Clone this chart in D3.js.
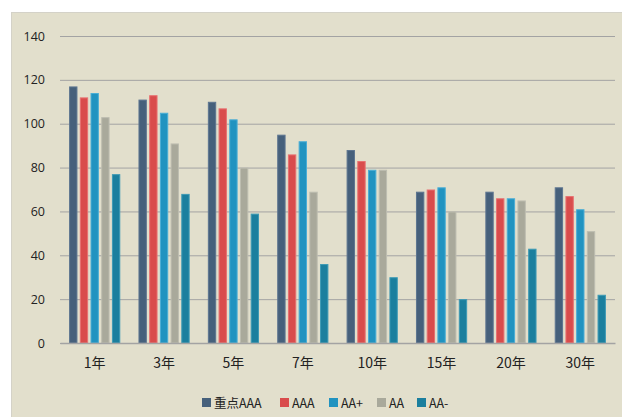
<!DOCTYPE html>
<html>
<head>
<meta charset="utf-8">
<script src="https://cdn.jsdelivr.net/npm/d3@7/dist/d3.min.js"></script>
<style>
  html, body { margin: 0; padding: 0; background: #ffffff; }
  svg { display: block; }
  text { font-family: "Noto Sans CJK SC", "Open Sans", sans-serif; fill: #222; }
</style>
</head>
<body>
<svg id="chart" width="622" height="417"></svg>
<script>
// Tenors along the x axis
const categories = ["1年", "3年", "5年", "7年", "10年", "15年", "20年", "30年"];
// Rating series names
const seriesNames = ["重点AAA", "AAA", "AA+", "AA", "AA-"];
// Values per series, one entry per tenor
const seriesKeyAAA = [117, 111, 110, 95, 88, 69, 69, 71];
const seriesAAA    = [112, 113, 107, 86, 83, 70, 66, 67];
const seriesAAplus = [114, 105, 102, 92, 79, 71, 66, 61];
const seriesAA     = [103, 91, 80, 69, 79, 60, 65, 51];
const seriesAAminus = [77, 68, 59, 36, 30, 20, 43, 22];
const yTicks = [0, 20, 40, 60, 80, 100, 120, 140];

const seriesValues = [seriesKeyAAA, seriesAAA, seriesAAplus, seriesAA, seriesAAminus];
const colors = ["#46607b", "#d94c4c", "#2193c0", "#a9a99b", "#1b7f9e"];
const strokes = ["#5d7590", "#e87070", "#4aaed6", "#bdbdb0", "#3d9ab5"];

const svg = d3.select("#chart");

// panel background
svg.append("rect")
  .attr("x", 11.5).attr("y", 12.5)
  .attr("width", 615).attr("height", 410)
  .attr("fill", "#e2dfcc")
  .attr("stroke", "#d4d2c8");

const plotLeft = 60, plotRight = 615, plotTop = 36, plotBottom = 343;

const x = d3.scaleBand().domain(categories).range([plotLeft, plotRight]).paddingInner(0).paddingOuter(0);
const xs = d3.scaleBand().domain(seriesNames).range([0, x.bandwidth()]).paddingInner(0.22).paddingOuter(0.85);
const y = d3.scaleLinear().domain([0, 140]).range([plotBottom, plotTop]);

// horizontal gridlines
const yAxis = d3.axisLeft(y).tickValues(yTicks).tickSize(-(plotRight - plotLeft)).tickPadding(15);
const gy = svg.append("g").attr("transform", `translate(${plotLeft},0)`).call(yAxis);
gy.select(".domain").remove();
gy.selectAll(".tick line").attr("stroke", "#a3a3a3").attr("stroke-width", 1);
gy.selectAll(".tick text").attr("font-size", 12.5).attr("fill", "#1a1a1a")
  .style("font-family", '"Open Sans", "Noto Sans", sans-serif');

// bars
const groups = svg.append("g").selectAll("g")
  .data(categories)
  .join("g")
  .attr("transform", d => `translate(${x(d)},0)`);

groups.selectAll("rect")
  .data((c, ci) => seriesNames.map((s, si) => ({ s, si, v: seriesValues[si][ci] })))
  .join("rect")
  .attr("x", d => xs(d.s) + 0.5)
  .attr("width", xs.bandwidth() - 1)
  .attr("y", d => y(d.v) + 0.5)
  .attr("height", d => y(0) - y(d.v) - 0.5)
  .attr("fill", d => colors[d.si])
  .attr("stroke", d => strokes[d.si])
  .attr("stroke-width", 1);

// x axis
const xAxis = d3.axisBottom(x).tickSize(0).tickPadding(15);
const gx = svg.append("g").attr("transform", `translate(0,${plotBottom})`).call(xAxis);
gx.select(".domain").attr("stroke", "#a3a3a3").attr("stroke-width", 1.5);
gx.selectAll(".tick text").attr("font-size", 14).attr("fill", "#1a1a1a");

// legend
const legendX = [202, 280, 329, 377, 417];
const legend = svg.append("g").selectAll("g")
  .data(seriesNames)
  .join("g")
  .attr("transform", (d, i) => `translate(${legendX[i]},398)`);
legend.append("rect")
  .attr("width", 9).attr("height", 9)
  .attr("fill", (d, i) => colors[i]);
legend.append("text")
  .attr("x", 12).attr("y", 9.5)
  .attr("font-size", 12.5)
  .text(d => d);
</script>
</body>
</html>
